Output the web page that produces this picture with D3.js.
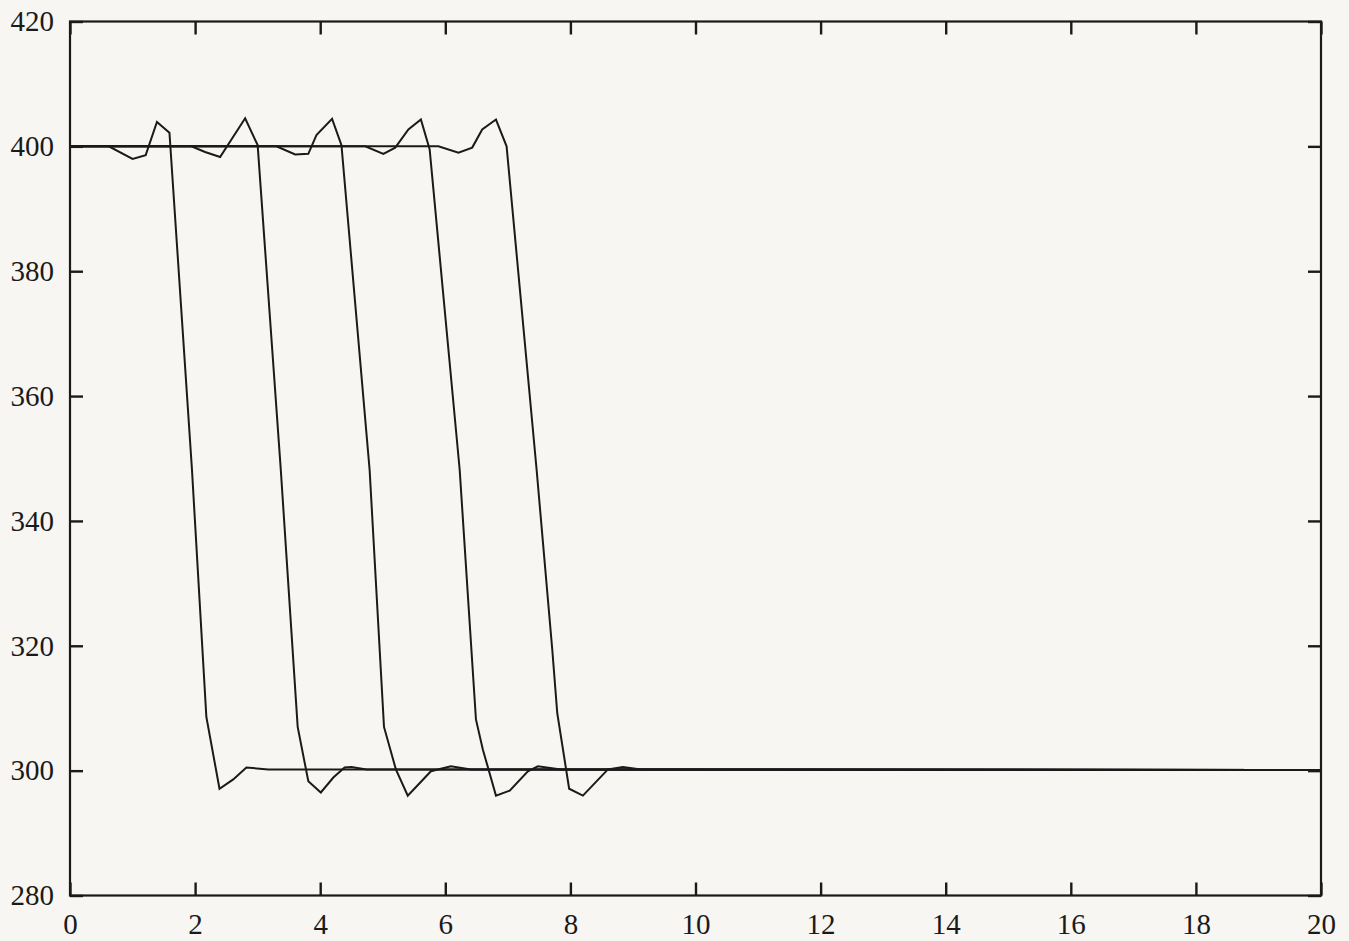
<!DOCTYPE html>
<html>
<head>
<meta charset="utf-8">
<script src="https://cdn.jsdelivr.net/npm/d3@7"></script>
<style>
  html, body { margin: 0; padding: 0; background: #f8f6f3; }
  svg { display: block; }
</style>
</head>
<body>
<svg id="chart" width="1349" height="941"></svg>
<script>
// ---- data ----
const xTicks = [0, 2, 4, 6, 8, 10, 12, 14, 16, 18, 20];
const yTicks = [280, 300, 320, 340, 360, 380, 400, 420];

const curve1 = [[0,400],[0.62,400],[1.00,398.0],[1.21,398.6],[1.39,403.9],[1.59,402.2],[1.95,348.2],[2.18,308.6],[2.39,297.1],[2.61,298.6],[2.82,300.5],[3.17,300.2],[20,300.1]];
const curve2 = [[0,400],[1.94,400],[2.16,399.1],[2.40,398.3],[2.80,404.5],[3.00,400.2],[3.37,348.2],[3.64,307.0],[3.81,298.3],[4.01,296.5],[4.21,298.9],[4.39,300.5],[4.50,300.6],[4.74,300.2],[20,300.1]];
const curve3 = [[0,400],[3.30,400],[3.60,398.7],[3.81,398.8],[3.94,401.8],[4.19,404.4],[4.34,400.2],[4.79,348.2],[5.02,307.0],[5.21,300.2],[5.40,296.0],[5.77,299.9],[6.09,300.7],[6.41,300.2],[20,300.1]];
const curve4 = [[0,400],[4.72,400],[5.01,398.8],[5.20,399.8],[5.41,402.7],[5.61,404.3],[5.75,399.5],[6.23,348.2],[6.49,308.2],[6.60,303.4],[6.81,296.0],[7.03,296.8],[7.32,299.9],[7.48,300.7],[7.85,300.2],[20,300.1]];
const curve5 = [[0,400],[5.89,400],[6.21,399.0],[6.43,399.8],[6.59,402.7],[6.81,404.3],[6.98,400.0],[7.46,348.2],[7.71,319.4],[7.79,309.2],[7.98,297.1],[8.20,296.0],[8.60,300.2],[8.84,300.6],[9.13,300.2],[20,300.1]];
const seriesList = [curve1, curve2, curve3, curve4, curve5];

// ---- layout ----
const svg = d3.select("#chart");
const mLeft = 70, mRight = 1321, mTop = 21.5, mBottom = 895.5;

const x = d3.scaleLinear().domain([0, 20]).range([mLeft, mRight]);
const y = d3.scaleLinear().domain([280, 420]).range([mBottom, mTop]);

const ink = "#1a1a1a";
const labelFont = "'Liberation Serif', 'Times New Roman', serif";

// frame
svg.append("rect")
  .attr("x", mLeft).attr("y", mTop)
  .attr("width", mRight - mLeft).attr("height", mBottom - mTop)
  .attr("fill", "none").attr("stroke", ink).attr("stroke-width", 2.2);

function styleAxis(g) {
  g.attr("font-family", labelFont).attr("font-size", 29);
  g.select(".domain").remove();
  g.selectAll(".tick line").attr("stroke", ink).attr("stroke-width", 2.4);
  g.selectAll(".tick text").attr("fill", ink);
}

// bottom axis with labels
svg.append("g")
  .attr("transform", `translate(0,${mBottom})`)
  .call(d3.axisBottom(x).tickValues(xTicks).tickFormat(d3.format("d")).tickSize(-13).tickPadding(18))
  .call(styleAxis);

// left axis with labels
svg.append("g")
  .attr("transform", `translate(${mLeft},0)`)
  .call(d3.axisLeft(y).tickValues(yTicks).tickFormat(d3.format("d")).tickSize(-13).tickPadding(16))
  .call(styleAxis);

// top & right ticks only
svg.append("g")
  .attr("transform", `translate(0,${mTop})`)
  .call(d3.axisTop(x).tickValues(xTicks).tickFormat("").tickSize(-13))
  .call(styleAxis);
svg.append("g")
  .attr("transform", `translate(${mRight},0)`)
  .call(d3.axisRight(y).tickValues(yTicks).tickFormat("").tickSize(-13))
  .call(styleAxis);

// lines
const line = d3.line().x(d => x(d[0])).y(d => y(d[1]));
svg.append("g").selectAll("path")
  .data(seriesList)
  .join("path")
  .attr("d", line)
  .attr("fill", "none")
  .attr("stroke", ink)
  .attr("stroke-width", 2)
  .attr("stroke-linejoin", "miter");
</script>
</body>
</html>
